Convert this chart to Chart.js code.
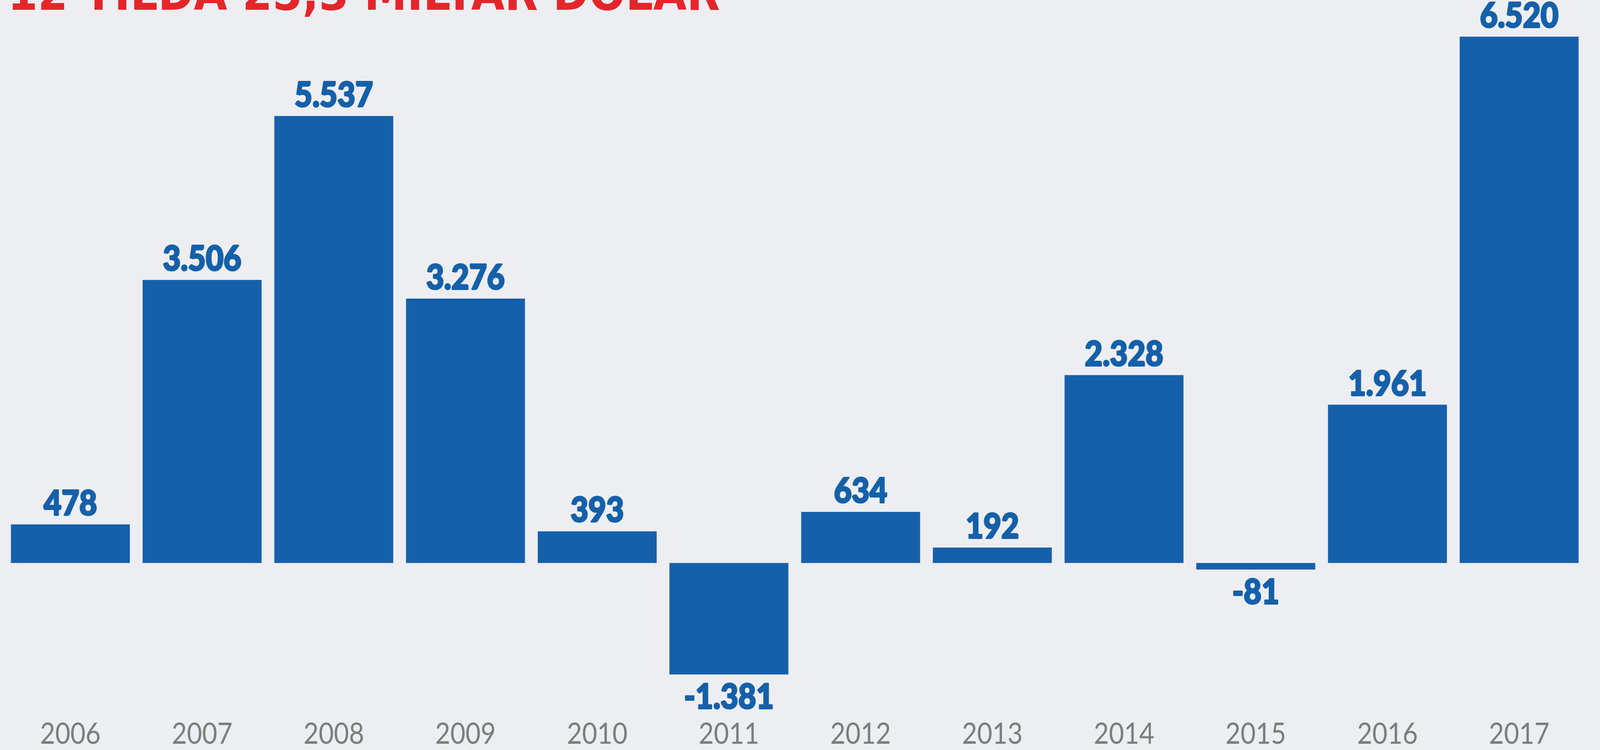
<!DOCTYPE html>
<html>
<head>
<meta charset="utf-8">
<script src="https://cdn.jsdelivr.net/npm/chart.js@4.4.1/dist/chart.umd.min.js"></script>
<style>
  html, body { margin: 0; padding: 0; background: #edeef1; overflow: hidden; }
  #wrap { position: relative; width: 4588px; height: 1919px; transform-origin: 0 0; }
  #chart { position: absolute; left: 0; top: 0; width: 4588px; height: 1919px; }
  #headline {
    position: absolute; left: 22px; top: -80px; margin: 0;
    font-family: "DejaVu Sans", sans-serif; font-weight: bold;
    font-size: 124px; line-height: 124px;
    color: #e4262b; white-space: nowrap;
  }
</style>
</head>
<body>
<div id="wrap">
  <canvas id="chart" width="4588" height="1919"></canvas>
  <div id="headline">12 YILDA 25,3 MİLYAR DOLAR</div>
</div>
<script>
// Data (million dollars)
var years = ['2006', '2007', '2008', '2009', '2010', '2011', '2012', '2013', '2014', '2015', '2016', '2017'];
var values = [478, 3506, 5537, 3276, 393, -1381, 634, 192, 2328, -81, 1961, 6520];

var barColor = '#1560aa';

// Layout is measured on the 4588x1919 picture; fit it into the real viewport
var wrap = document.getElementById('wrap');
wrap.style.transform = 'scale(' + (window.innerWidth / 4588) + ',' + (window.innerHeight / 1919) + ')';

// 6520 -> "6.520", -1381 -> "-1.381"
function formatNumber(v) {
  var s = String(Math.abs(v)).replace(/\B(?=(\d{3})+(?!\d))/g, '.');
  return (v < 0 ? '-' : '') + s;
}

// Value labels above positive bars and below negative ones
var valueLabels = {
  id: 'valueLabels',
  afterDatasetsDraw: function(chart) {
    var ctx = chart.ctx;
    var meta = chart.getDatasetMeta(0);
    var size = 88;
    var capHeight = size * 0.72;
    ctx.save();
    ctx.font = '900 ' + size + 'px Lato, "DejaVu Sans", sans-serif';
    ctx.fillStyle = barColor;
    ctx.strokeStyle = barColor;
    ctx.lineWidth = 4;
    ctx.lineJoin = 'round';
    ctx.textAlign = 'center';
    ctx.textBaseline = 'alphabetic';
    meta.data.forEach(function(bar, i) {
      var v = values[i];
      var y = v >= 0 ? bar.y - 24 : bar.y + 24 + capHeight;
      ctx.strokeText(formatNumber(v), bar.x, y);
      ctx.fillText(formatNumber(v), bar.x, y);
    });
    ctx.restore();
  }
};

var chart = new Chart(document.getElementById('chart').getContext('2d'), {
  type: 'bar',
  data: {
    labels: years,
    datasets: [{
      data: values,
      backgroundColor: barColor,
      borderWidth: 0,
      barPercentage: 0.903,
      categoryPercentage: 1
    }]
  },
  options: {
    responsive: false,
    devicePixelRatio: 1,
    animation: false,
    layout: { padding: { left: 13, right: 43, top: 0, bottom: 0 } },
    plugins: {
      legend: { display: false },
      title: { display: false },
      tooltip: { enabled: false }
    },
    scales: {
      x: {
        grid: { display: false, drawTicks: false },
        border: { display: false },
        ticks: {
          color: '#7c7c7c',
          padding: 3,
          font: { family: 'Lato, "Open Sans", sans-serif', size: 75 }
        },
        // push the year labels a little lower, as in the picture
        afterFit: function(scale) {
          scale.height -= 8;
        }
      },
      y: {
        display: false,
        min: -1890,
        max: 6974
      }
    }
  },
  plugins: [valueLabels]
});
</script>
</body>
</html>
